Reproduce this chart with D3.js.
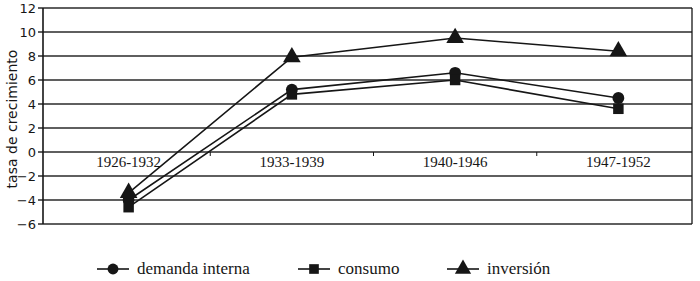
<!DOCTYPE html>
<html><head><meta charset="utf-8">
<script src="https://cdn.jsdelivr.net/npm/d3@7"></script>
<style>body{margin:0;background:#fff}svg{display:block}</style>
</head><body>
<svg id="c" width="700" height="281"></svg>
<script>
const categories = ["1926-1932","1933-1939","1940-1946","1947-1952"];
const demandaInterna = [-4.0, 5.2, 6.6, 4.5];
const consumo = [-4.6, 4.8, 6.0, 3.6];
const inversion = [-3.4, 7.9, 9.5, 8.4];
const yTicks = [12,10,8,6,4,2,0,-2,-4,-6];
const seriesNames = ["demanda interna","consumo","inversión"];

const svg = d3.select("#c");
const L = 43, R = 692, T = 8, B = 224;
const y = d3.scaleLinear().domain([-6,12]).range([B,T]);
const x = d3.scaleBand().domain(categories).range([47, 700]);
const cx = d => x(d) + x.bandwidth()/2;
const ink = "#161616";

// gridlines
svg.append("g").selectAll("line").data(yTicks).join("line")
  .attr("x1", L-5).attr("x2", R).attr("y1", d=>y(d)).attr("y2", d=>y(d))
  .attr("stroke", "#2a2a2a").attr("stroke-width", 1.4);
// frame
svg.append("line").attr("x1",L).attr("x2",L).attr("y1",T).attr("y2",B).attr("stroke",ink).attr("stroke-width",1.6);
svg.append("line").attr("x1",R).attr("x2",R).attr("y1",T).attr("y2",B).attr("stroke",ink).attr("stroke-width",1.3);

// y tick labels
svg.append("g").selectAll("text").data(yTicks).join("text")
  .attr("x", 36).attr("y", d=>y(d)).attr("dy","0.36em").attr("text-anchor","end")
  .attr("font-family","'DejaVu Sans', sans-serif").attr("font-size",13).attr("fill",ink)
  .text(d=> d<0 ? "\u2212"+Math.abs(d) : d);

// x axis ticks at category boundaries on zero line
svg.append("g").selectAll("line").data(categories.slice(1)).join("line")
  .attr("x1", d=>x(d)).attr("x2", d=>x(d)).attr("y1", y(0)).attr("y2", y(0)+4)
  .attr("stroke", ink).attr("stroke-width",1);
// category labels
svg.append("g").selectAll("text").data(categories).join("text")
  .attr("x", d=>cx(d)).attr("y", y(0)+15).attr("text-anchor","middle")
  .attr("font-family","'Liberation Serif', serif").attr("font-size",15).attr("fill",ink)
  .text(d=>d);

// y title
svg.append("text").attr("transform",`translate(17,119) rotate(-90)`)
  .attr("text-anchor","middle").attr("font-family","'DejaVu Sans', sans-serif")
  .attr("font-size",14).attr("fill",ink).text("tasa de crecimiento");

const data = [demandaInterna, consumo, inversion];
const shapes = [d3.symbolCircle, d3.symbolSquare, d3.symbolTriangle];
const sizes = [110, 110, 135];
const line = d3.line().x((d,i)=>cx(categories[i])).y(d=>y(d));
data.forEach((s,k)=>{
  svg.append("path").datum(s).attr("d",line).attr("fill","none").attr("stroke",ink).attr("stroke-width",1.6);
});
data.forEach((s,k)=>{
  svg.append("g").selectAll("path").data(s).join("path")
    .attr("transform",(d,i)=>`translate(${cx(categories[i])},${y(d)})`)
    .attr("d", d3.symbol(shapes[k], sizes[k])).attr("fill",ink);
});

// legend
const legX = [97, 298, 447];
const legY = 269;
seriesNames.forEach((n,k)=>{
  const g = svg.append("g").attr("transform",`translate(${legX[k]},${legY})`);
  g.append("line").attr("x1",0).attr("x2",32).attr("y1",0).attr("y2",0).attr("stroke",ink).attr("stroke-width",1.6);
  g.append("path").attr("transform","translate(16,0)").attr("d", d3.symbol(shapes[k], sizes[k]*0.85)).attr("fill",ink);
  g.append("text").attr("x",40).attr("y",0).attr("dy","0.32em")
    .attr("font-family","'Liberation Serif', serif").attr("font-size",17).attr("fill",ink).text(n);
});
</script>
</body></html>
